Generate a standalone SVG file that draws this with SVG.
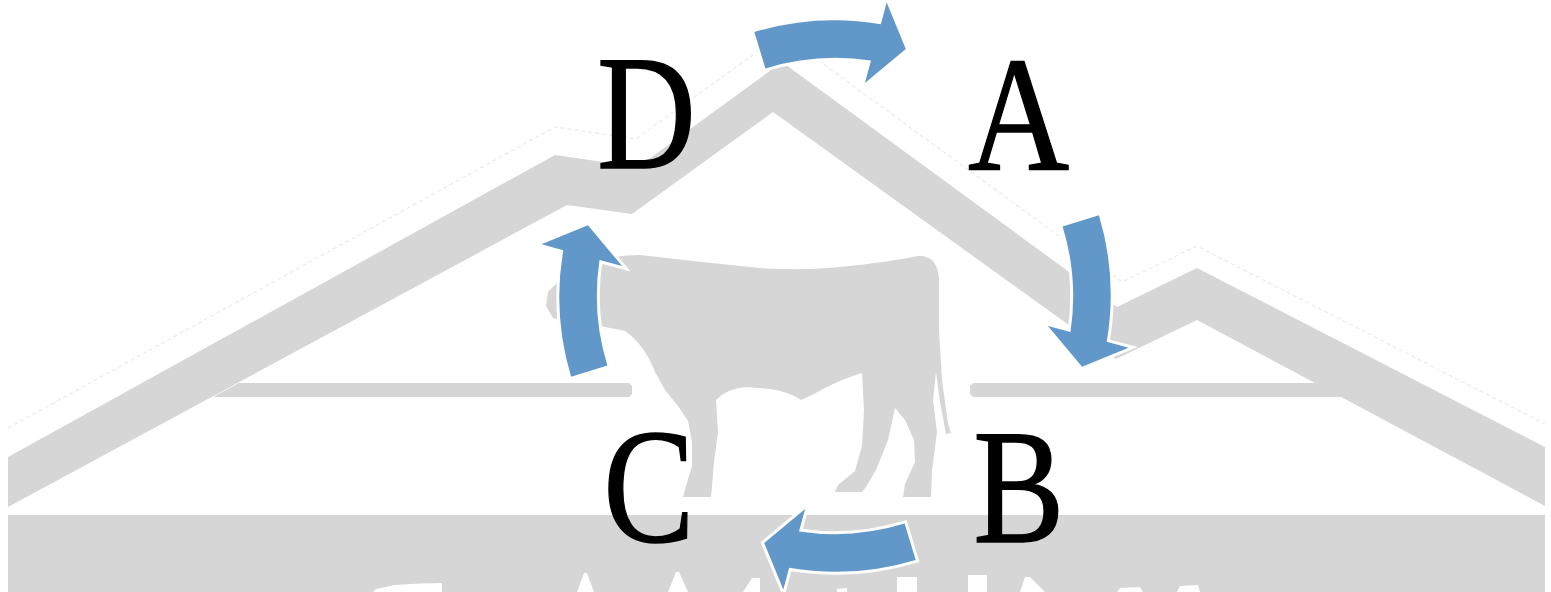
<svg xmlns="http://www.w3.org/2000/svg" xmlns:xlink="http://www.w3.org/1999/xlink" width="1551" height="592" viewBox="0 0 1551 592">
  <style>
    .wm { fill: #d6d6d6; }
    .knock { fill: #ffffff; }
    .faint { fill: none; stroke: #ebebeb; stroke-width: 1.2; stroke-dasharray: 4 3; }
    .arrow { fill: #6197c9; stroke: #ffffff; stroke-width: 6; stroke-linejoin: miter; paint-order: stroke; }
    .lbl { font-family: "Liberation Serif", "Times New Roman", serif; font-size: 163px; fill: #000000; stroke: #000000; stroke-width: 1.4; text-anchor: middle; }
  </style>
  <defs>
    <path id="arrowShape" d="M 754.3,32.1 A 276 276 0 0 1 880.8,24.3 L 886.7,2.5 L 905.8,48.9 L 864.9,83.1 L 871.0,60.5 A 238 238 0 0 0 765.4,68.4 Z"/>
  </defs>
  <rect x="0" y="0" width="1551" height="592" fill="#ffffff"/>

  <g id="watermark">
    <polyline class="faint" points="8,428 555,127 636,139 782,34 1122,282 1197,246 1545,424"/>
    <polygon class="wm" points="8,457 555,155 638,167 782,62 1117,307 1197,268 1545,447 1545,506 1197,320 1116,359 773,112 632,214 567,205 8,507"/>
    <polygon class="wm" points="239,383 629,383 632,386 632,394 629,397 213,397"/>
    <polygon class="wm" points="973,383 1316,383 1343,397 973,397 970,394 970,386"/>
    <rect class="wm" x="8" y="515" width="1537" height="77"/>
    <path class="wm" d="M 548,292 Q 562,276 592,263 Q 612,255 640,255 Q 700,262 760,268 Q 800,271 840,267 Q 890,262 918,256 Q 937,255 939,278 L 939,330 L 942,380 L 948,424 L 951,433 L 946,434 L 940,402 L 936,372 L 933,400 L 937,432 L 932,470 L 931,497 L 903,497 L 905,484 L 915,462 L 914,440 L 905,420 L 895,408 L 888,440 L 876,470 L 866,487 L 862,492 L 835,492 L 838,485 L 855,471 L 862,446 L 864,410 L 862,373 Q 838,380 812,395 L 801,400 Q 790,392 770,389 L 746,387 Q 728,388 716,400 L 718,432 L 714,462 L 712,486 L 711,497 L 683,497 L 686,486 L 692,466 L 692,442 L 688,421 L 678,406 L 665,390 L 655,372 Q 645,345 625,331 L 600,326 L 572,323 L 553,318 L 546,306 Z"/>
    <g id="letter-fragments">
      <polygon class="knock" points="373,592 376,589 395,585 420,583.5 442,583 442,592"/>
      <polygon class="knock" points="577,592 584,573 587,573 594,592"/>
      <polygon class="knock" points="668,592 676,572 679,572 688,592"/>
      <polygon class="knock" points="743,592 752,578 760,578 760,592"/>
      <polygon class="knock" points="837,589 847,588 847,592 837,592"/>
      <rect class="knock" x="897" y="577" width="20" height="15"/>
      <rect class="knock" x="968" y="575" width="19" height="17"/>
      <polygon class="knock" points="1020,592 1025,577 1030,577 1045,592"/>
      <polygon class="knock" points="1117,592 1120,588 1140,587 1143,592"/>
      <polygon class="knock" points="1177,592 1180,586 1198,585 1200,592"/>
    </g>
  </g>

  <g id="connectors">
    <use id="arrow-D-A" class="arrow" xlink:href="#arrowShape" href="#arrowShape"/>
    <use id="arrow-A-B" class="arrow" xlink:href="#arrowShape" href="#arrowShape" transform="rotate(90 835 296)"/>
    <use id="arrow-B-C" class="arrow" xlink:href="#arrowShape" href="#arrowShape" transform="rotate(180 835 296)"/>
    <use id="arrow-C-D" class="arrow" xlink:href="#arrowShape" href="#arrowShape" transform="rotate(270 835 296)"/>
  </g>

  <g id="node-D"><text class="lbl" transform="translate(646.5,168) scale(0.84,1)">D</text></g>
  <g id="node-A"><text class="lbl" transform="translate(1018.5,169) scale(0.86,1)">A</text></g>
  <g id="node-B"><text class="lbl" transform="translate(1019,542) scale(0.84,1)">B</text></g>
  <g id="node-C"><text class="lbl" transform="translate(649,541) scale(0.84,1)">C</text></g>
</svg>
